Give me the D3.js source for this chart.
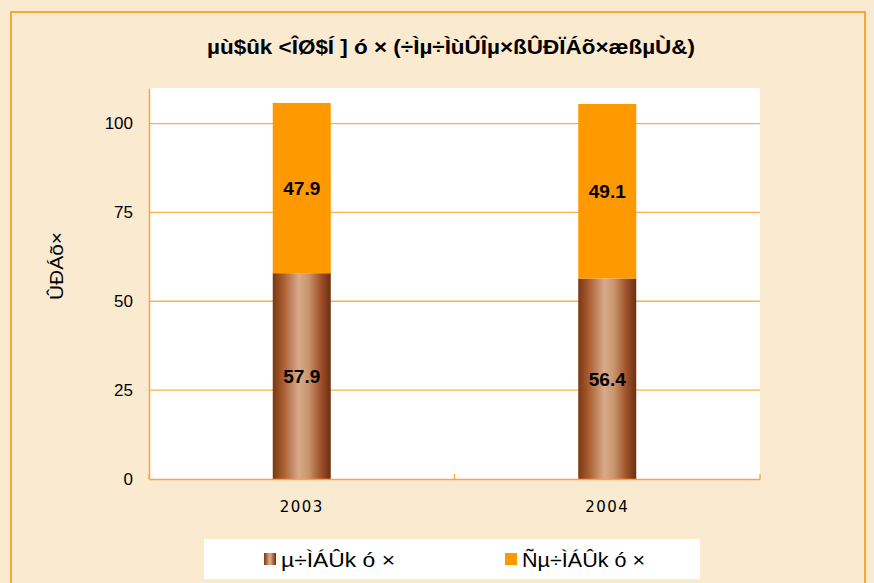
<!DOCTYPE html>
<html lang="en">
<head>
    <meta charset="UTF-8">
    <title>Chart</title>
    <script src="https://d3js.org/d3.v7.min.js"></script>
    <style>
        body { margin: 0; background: #fbecd3; }
        svg { display: block; }
    </style>
</head>
<body>
<svg id="chart" width="874" height="583"></svg>
<script>
    var years = ["2003", "2004"];
    var lower = [57.9, 56.4];
    var upper = [47.9, 49.1];
    var yTicks = [0, 25, 50, 75, 100];
    var seriesNames = ["µ÷ÌÁÛk ó ×", "Ñµ÷ÌÁÛk ó ×"];
    var title = "µù$ûk <ÎØ$Í ] ó × (÷Ìµ÷ÌùÛÎµ×ßÛÐÏÁõ×æßµÙ&)";
    var yLabel = "ÛÐÁõ×";

    var svg = d3.select("#chart");
    var plot = {left: 149, right: 760, top: 88, bottom: 479};

    // brown cylinder-ish fill
    var defs = svg.append("defs");
    var grad = defs.append("linearGradient").attr("id", "brown")
        .attr("x1", "0%").attr("x2", "100%").attr("y1", "0%").attr("y2", "0%");
    [["0%", "#7a3812"], ["18%", "#a95d30"], ["45%", "#d8ab8c"], ["62%", "#c8946e"], ["82%", "#a2532b"], ["100%", "#6a2f0f"]]
        .forEach(function(s){ grad.append("stop").attr("offset", s[0]).attr("stop-color", s[1]); });

    // background + border
    svg.append("rect").attr("x", 0).attr("y", 0).attr("width", 874).attr("height", 583).attr("fill", "#faebd0");
    svg.append("rect").attr("x", 11).attr("y", 12).attr("width", 854).attr("height", 600)
        .attr("fill", "none").attr("stroke", "#f9a634").attr("stroke-width", 2);

    var x = d3.scaleBand().domain(years).range([plot.left, plot.right]);
    var y = d3.scaleLinear().domain([0, 110]).range([plot.bottom, plot.top]);

    svg.append("rect").attr("x", plot.left).attr("y", plot.top)
        .attr("width", plot.right - plot.left).attr("height", plot.bottom - plot.top)
        .attr("fill", "#fff");

    // gridlines
    svg.selectAll(".grid").data(yTicks.filter(function(d){ return d > 0; })).enter()
        .append("line")
        .attr("x1", plot.left).attr("x2", plot.right)
        .attr("y1", function(d){ return y(d); }).attr("y2", function(d){ return y(d); })
        .attr("stroke", "#fdb14a").attr("stroke-width", 1.3);

    // bars
    var barW = 58;
    svg.selectAll(".low").data(years).enter().append("rect")
        .attr("x", function(d){ return x(d) + x.bandwidth() / 2 - barW / 2; })
        .attr("y", function(d, i){ return y(lower[i]); })
        .attr("width", barW)
        .attr("height", function(d, i){ return y(0) - y(lower[i]); })
        .attr("fill", "url(#brown)");
    svg.selectAll(".up").data(years).enter().append("rect")
        .attr("x", function(d){ return x(d) + x.bandwidth() / 2 - barW / 2; })
        .attr("y", function(d, i){ return y(lower[i] + upper[i]); })
        .attr("width", barW)
        .attr("height", function(d, i){ return y(lower[i]) - y(lower[i] + upper[i]); })
        .attr("fill", "#ff9900");

    // value labels
    years.forEach(function(d, i){
        var cx = x(d) + x.bandwidth() / 2;
        svg.append("text").attr("x", cx).attr("y", y(lower[i] / 2) + 7)
            .attr("text-anchor", "middle").attr("font-family", "Liberation Sans, Arial")
            .attr("font-weight", "bold").attr("font-size", 19).text(lower[i].toFixed(1));
        svg.append("text").attr("x", cx).attr("y", y(lower[i] + upper[i] / 2) + 7)
            .attr("text-anchor", "middle").attr("font-family", "Liberation Sans, Arial")
            .attr("font-weight", "bold").attr("font-size", 19).text(upper[i].toFixed(1));
    });

    // axes
    var yAxis = svg.append("g").attr("transform", "translate(" + plot.left + ",0)")
        .call(d3.axisLeft(y).tickValues(yTicks).tickSize(0).tickPadding(16));
    yAxis.select(".domain").attr("stroke", "#f9a634").attr("stroke-width", 1.5);
    yAxis.selectAll("text").attr("font-family", "Liberation Sans, Arial").attr("font-size", 17).attr("fill", "#000");

    var xAxis = svg.append("g").attr("transform", "translate(0," + plot.bottom + ")")
        .call(d3.axisBottom(x).tickSize(0).tickPadding(22));
    xAxis.select(".domain").attr("stroke", "#f9a634").attr("stroke-width", 1.5);
    xAxis.selectAll("text").attr("font-family", "DejaVu Sans, Verdana").attr("font-size", 15)
        .attr("letter-spacing", 1.5).attr("fill", "#000");
    svg.selectAll(".xt").data([plot.left, (plot.left + plot.right) / 2, plot.right]).enter()
        .append("line").attr("x1", function(d){ return d; }).attr("x2", function(d){ return d; })
        .attr("y1", plot.bottom).attr("y2", plot.bottom - 5)
        .attr("stroke", "#f9a634").attr("stroke-width", 1.3);

    // title + y label
    svg.append("text").attr("x", 451).attr("y", 54).attr("text-anchor", "middle")
        .attr("font-family", "Liberation Sans, Arial").attr("font-weight", "bold").attr("font-size", 21)
        .attr("textLength", 488).attr("lengthAdjust", "spacingAndGlyphs")
        .text(title);
    svg.append("text").attr("transform", "translate(63,266) rotate(-90)").attr("text-anchor", "middle")
        .attr("font-family", "Liberation Sans, Arial").attr("font-size", 19)
        .attr("textLength", 68).attr("lengthAdjust", "spacingAndGlyphs").text(yLabel);

    // legend
    svg.append("rect").attr("x", 204).attr("y", 539).attr("width", 496).attr("height", 40).attr("fill", "#fff");
    var legX = [264, 505];
    seriesNames.forEach(function(n, i){
        svg.append("rect").attr("x", legX[i]).attr("y", 553).attr("width", 12).attr("height", 12)
            .attr("fill", i === 0 ? "url(#brown)" : "#ff9900");
        svg.append("text").attr("x", legX[i] + 17).attr("y", 567)
            .attr("font-family", "Liberation Sans, Arial").attr("font-size", 20)
            .attr("textLength", i === 0 ? 114 : 123).attr("lengthAdjust", "spacingAndGlyphs").text(n);
    });
</script>
</body>
</html>
